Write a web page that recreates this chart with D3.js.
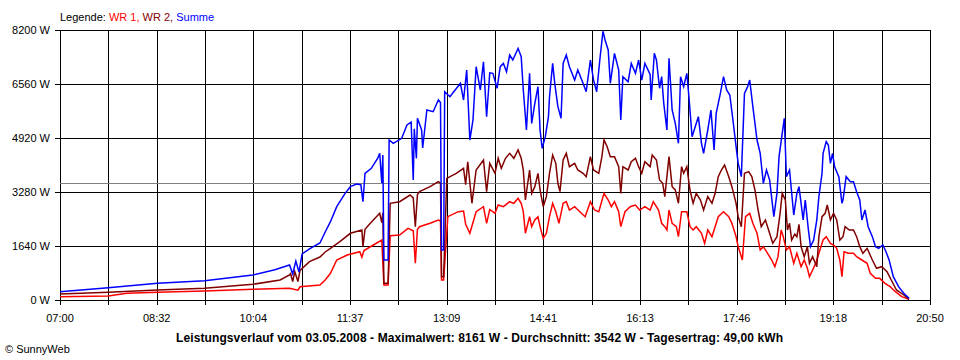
<!DOCTYPE html>
<html><head><meta charset="utf-8">
<script src="https://cdn.jsdelivr.net/npm/d3@7/dist/d3.min.js"></script>
<style>
html,body{margin:0;padding:0;background:#fff;}
svg text{font-family:"Liberation Sans",Arial,sans-serif;}
</style></head>
<body>
<svg id="c" width="960" height="360"></svg>
<script>
// ---- data ----
const yTicks = [0, 1640, 3280, 4920, 6560, 8200];
const xTickLabels = ["07:00","08:32","10:04","11:37","13:09","14:41","16:13","17:46","19:18","20:50"];
const average = 3542;
const legendItems = ["WR 1", "WR 2", "Summe"];
const titleText = "Leistungsverlauf vom 03.05.2008 - Maximalwert: 8161 W - Durchschnitt: 3542 W - Tagesertrag: 49,00 kWh";

const wr1Times = ["07:00","07:46","08:04","08:33","09:18","10:04","10:39","10:47","10:49","11:08","11:13","11:18","11:24","11:34","11:46","11:48","11:50","11:59","12:07","12:09","12:13","12:15","12:24","12:32","12:37","12:39","12:41","12:43","12:53","13:01","13:03","13:04","13:06","13:10","13:20","13:25","13:27","13:31","13:37","13:44","13:47","13:50","13:55","13:58","14:03","14:09","14:13","14:17","14:20","14:22","14:24","14:28","14:30","14:33","14:36","14:38","14:41","14:44","14:47","14:50","14:53","14:56","15:00","15:03","15:06","15:11","15:16","15:21","15:26","15:30","15:34","15:39","15:43","15:46","15:49","15:53","15:55","15:59","16:04","16:09","16:13","16:18","16:23","16:26","16:31","16:34","16:37","16:39","16:41","16:44","16:48","16:50","16:53","16:58","17:01","17:04","17:07","17:12","17:15","17:18","17:22","17:25","17:28","17:33","17:38","17:41","17:45","17:47","17:51","17:54","17:58","18:01","18:05","18:08","18:11","18:14","18:19","18:22","18:25","18:28","18:30","18:33","18:36","18:40","18:43","18:47","18:50","18:53","18:55","18:58","19:01","19:04","19:08","19:11","19:15","19:18","19:21","19:24","19:26","19:28","19:32","19:37","19:40","19:45","19:50","19:53","19:58","20:02","20:07","20:12","20:17","20:23","20:30"];
const wr1 = [100,121,203,234,273,325,355,300,400,455,607,810,1215,1367,1467,1300,1500,1670,1822,455,455,1950,1974,2177,2100,1114,2150,2227,2329,2430,2400,607,607,2530,2682,2700,2300,2026,2682,2834,2329,2750,2633,2885,2834,2986,2936,3088,2936,2682,2026,2530,2227,2430,2530,2227,1873,2026,2530,2936,2682,2329,2936,2986,2733,2834,2682,2530,2986,2733,2682,3240,3037,2834,2986,2682,2227,2682,2834,2885,2733,2834,2733,2986,2733,2329,2227,2126,2733,2329,2227,1924,2682,2682,2227,2126,2227,2026,1721,2126,1924,2227,2530,2682,2530,2329,1924,1619,1215,2530,2633,2329,2026,1518,1619,1467,1215,1012,1316,2126,1924,1518,1619,1114,1418,1012,1215,962,708,911,1114,1418,1822,1924,1721,1670,1570,1215,708,1467,1418,1418,1316,1215,1114,810,658,658,507,405,253,101,20];

const wr2Times = ["07:00","07:46","08:33","09:18","10:04","10:30","10:39","10:40","10:42","10:44","10:47","10:49","10:58","11:08","11:13","11:18","11:27","11:37","11:48","11:49","11:51","11:56","12:05","12:07","12:08","12:09","12:13","12:15","12:24","12:34","12:37","12:39","12:41","12:43","12:53","13:01","13:03","13:04","13:06","13:09","13:18","13:25","13:27","13:29","13:33","13:37","13:44","13:47","13:50","13:55","13:58","14:01","14:05","14:09","14:13","14:17","14:20","14:22","14:24","14:28","14:30","14:33","14:36","14:38","14:41","14:44","14:47","14:50","14:53","14:55","14:57","15:00","15:03","15:06","15:11","15:14","15:19","15:22","15:26","15:29","15:34","15:37","15:39","15:42","15:45","15:49","15:53","15:55","15:57","16:02","16:05","16:09","16:12","16:15","16:18","16:23","16:25","16:29","16:32","16:35","16:37","16:41","16:44","16:47","16:50","16:53","16:55","16:58","17:01","17:04","17:07","17:11","17:14","17:18","17:22","17:25","17:28","17:31","17:34","17:38","17:41","17:45","17:47","17:50","17:53","17:57","18:00","18:03","18:06","18:09","18:13","18:16","18:20","18:24","18:27","18:29","18:32","18:34","18:36","18:38","18:41","18:43","18:45","18:47","18:50","18:53","18:55","18:58","19:02","19:04","19:07","19:10","19:12","19:15","19:18","19:21","19:24","19:27","19:29","19:33","19:37","19:40","19:43","19:46","19:50","19:55","19:59","20:04","20:09","20:13","20:18","20:25","20:30"];
const wr2 = [182,234,304,355,477,607,760,800,560,860,560,900,1166,1306,1458,1570,1771,2026,2126,1619,2150,2329,2633,2350,2650,507,507,2937,2986,3189,3100,2226,3200,3290,3442,3594,3550,708,708,3695,3848,4000,3500,4200,2937,3948,4252,3290,4150,3848,4303,4000,4303,4455,4303,4556,4303,3948,3037,3948,3240,3442,3848,3341,2834,3139,3848,4404,4151,3544,3290,4252,4455,4049,4151,3948,3848,3746,4353,3948,3848,4353,4859,4657,4353,4353,4049,3240,4049,3948,4200,4303,4049,3848,4200,4050,4404,4252,3644,3544,3139,4353,3442,3341,2937,4049,3848,4049,3341,2937,3240,3037,2733,3139,2937,3240,3746,3948,4100,3746,3442,2937,2530,2227,3848,3898,3746,3341,2733,2227,2430,2126,1721,1924,2633,3240,3037,2126,2329,1822,2000,1924,2300,1619,1316,1619,1114,1316,1012,1924,2530,2633,2885,2430,2633,2430,1822,1924,2227,2126,2126,1924,1619,1418,1570,1215,962,1012,859,607,304,152,20];

const sumTimes = ["07:00","07:46","08:33","09:18","10:04","10:25","10:39","10:42","10:45","10:48","10:51","10:58","11:08","11:13","11:18","11:24","11:32","11:37","11:43","11:47","11:49","11:51","11:57","12:03","12:05","12:07","12:08","12:09","12:13","12:14","12:18","12:26","12:31","12:35","12:37","12:38","12:40","12:41","12:45","12:46","12:50","12:56","13:01","13:03","13:04","13:06","13:07","13:12","13:17","13:22","13:25","13:28","13:31","13:34","13:37","13:41","13:44","13:47","13:50","13:53","13:57","14:00","14:03","14:06","14:09","14:12","14:17","14:20","14:22","14:25","14:28","14:30","14:33","14:36","14:38","14:40","14:43","14:46","14:47","14:50","14:52","14:55","14:58","15:00","15:03","15:06","15:11","15:14","15:19","15:22","15:26","15:29","15:32","15:35","15:38","15:40","15:43","15:45","15:49","15:53","15:55","15:57","16:02","16:05","16:09","16:12","16:15","16:18","16:23","16:24","16:27","16:29","16:32","16:34","16:36","16:39","16:41","16:44","16:47","16:50","16:52","16:55","16:58","17:00","17:03","17:06","17:09","17:12","17:14","17:18","17:21","17:24","17:26","17:30","17:33","17:36","17:39","17:42","17:45","17:47","17:50","17:53","17:56","17:58","18:01","18:05","18:08","18:11","18:14","18:17","18:21","18:24","18:26","18:29","18:31","18:33","18:36","18:40","18:43","18:45","18:49","18:51","18:54","18:56","18:59","19:02","19:04","19:07","19:08","19:11","19:13","19:15","19:17","19:19","19:23","19:26","19:27","19:30","19:34","19:37","19:40","19:43","19:45","19:48","19:51","19:55","19:58","20:01","20:05","20:08","20:11","20:15","20:20","20:25","20:30"];
const summe = [252,374,507,586,759,920,1063,790,1180,850,1400,1550,1731,2065,2378,2834,3240,3442,3523,3500,2986,3848,4000,4300,4455,3553,4400,1215,1215,4859,4758,4911,5315,5400,3644,5200,4300,5518,5163,4617,5770,5719,6074,6000,1518,1518,6326,6174,6378,6581,6074,6985,4859,5467,7085,6378,7237,5567,6900,6885,6430,7085,7186,6935,7440,7289,7643,7390,6378,5163,6885,5365,5972,6479,5163,4607,4961,5567,6174,7186,6581,5871,5518,7186,7440,7085,6681,6985,6581,6326,7289,6681,6326,7289,8161,7896,7593,6581,7492,6985,5467,6783,6630,7186,6885,7289,6681,7186,6850,6074,7492,7289,6430,6783,5972,5163,7340,5770,5365,4758,6783,6479,6885,6174,4961,5264,5567,4758,4455,5163,5770,4556,5669,6276,6783,6378,6226,5467,4657,4151,3746,6276,6479,6681,5871,4859,4455,3544,3948,3644,2530,3240,4353,5062,5518,3746,3948,2580,3240,3442,2430,3037,2126,1619,1822,2430,3139,3848,4455,4809,4708,4151,4455,4049,3746,2937,3037,3746,3594,3594,3290,3037,2430,2733,2227,1924,1619,1570,1670,1467,1215,708,405,203,52];

// ---- chart ----
const svg = d3.select("#c");
const toMin = s => { const [h, m] = s.split(":").map(Number); return h * 60 + m; };
const pL = 60, pR = 930, pT = 30, pB = 300;
const x = d3.scaleLinear().domain([toMin(xTickLabels[0]), toMin(xTickLabels[xTickLabels.length - 1])]).range([pL, pR]);
const y = d3.scaleLinear().domain([0, 8200]).range([pB, pT]);
const cx = v => Math.round(v) + 0.5;

[[wr1Times, wr1], [wr2Times, wr2], [sumTimes, summe]].forEach(([a, b], i) => {
  if (a.length !== b.length) throw new Error("length mismatch series " + i + ": " + a.length + " vs " + b.length);
});

// vertical grid: 18 intervals, labels on every second line
const t0 = x.domain()[0], t1 = x.domain()[1];
const gridT = d3.range(19).map(i => t0 + i * (t1 - t0) / 18);
const grid = svg.append("g").attr("shape-rendering", "crispEdges");
grid.selectAll("line.v").data(gridT).join("line")
  .attr("x1", d => cx(x(d))).attr("x2", d => cx(x(d)))
  .attr("y1", pT).attr("y2", pB + 5)
  .attr("stroke", "#000").attr("stroke-width", 1);
grid.selectAll("line.h").data(yTicks).join("line")
  .attr("x1", pL - 5).attr("x2", pR + 0.5)
  .attr("y1", d => cx(y(d))).attr("y2", d => cx(y(d)))
  .attr("stroke", "#000").attr("stroke-width", 1);

// average line
svg.append("line").attr("shape-rendering", "crispEdges")
  .attr("x1", pL).attr("x2", pR)
  .attr("y1", cx(y(average))).attr("y2", cx(y(average)))
  .attr("stroke", "#808080").attr("stroke-width", 1);

// y labels
svg.selectAll("text.yl").data(yTicks).join("text")
  .attr("x", 50).attr("y", d => y(d) + 4)
  .attr("text-anchor", "end").attr("font-size", 11).attr("fill", "#000")
  .text(d => d + " W");

// x labels
svg.selectAll("text.xl").data(xTickLabels).join("text")
  .attr("x", (d, i) => x(gridT[i * 2])).attr("y", 322)
  .attr("text-anchor", "middle").attr("font-size", 11).attr("fill", "#000")
  .text(d => d);

// series
const series = [
  {times: wr1Times, vals: wr1, color: "#ff0000"},
  {times: wr2Times, vals: wr2, color: "#800000"},
  {times: sumTimes, vals: summe, color: "#0000ff"}
];
const line = d3.line().x(d => x(d[0])).y(d => y(d[1]));
series.forEach(s => {
  const pts = s.times.map((t, i) => [toMin(t), s.vals[i]]);
  svg.append("path").datum(pts).attr("d", line)
    .attr("fill", "none").attr("stroke", s.color).attr("stroke-width", 1.5)
    .attr("stroke-linejoin", "miter");
});

// legend
const leg = svg.append("text").attr("x", 60).attr("y", 21).attr("font-size", 11);
leg.append("tspan").attr("fill", "#000").text("Legende: ");
leg.append("tspan").attr("fill", "#ff0000").text(legendItems[0] + ", ");
leg.append("tspan").attr("fill", "#800000").text(legendItems[1] + ", ");
leg.append("tspan").attr("fill", "#0000ff").text(legendItems[2]);

// title
svg.append("text").attr("x", 479.5).attr("y", 342).attr("text-anchor", "middle")
  .attr("font-size", 12).attr("font-weight", "bold").attr("fill", "#000")
  .attr("textLength", 607).attr("lengthAdjust", "spacing").text(titleText);

// copyright
svg.append("text").attr("x", 5).attr("y", 353).attr("font-size", 11).attr("fill", "#000")
  .text("© SunnyWeb");
</script>
</body></html>
